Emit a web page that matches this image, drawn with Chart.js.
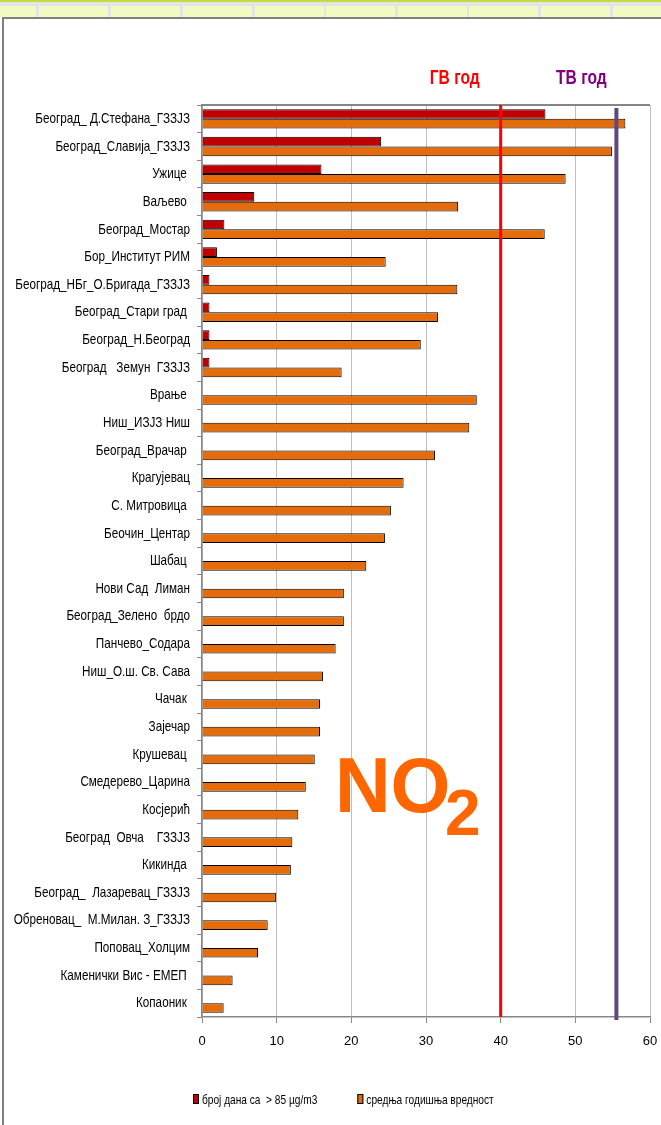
<!DOCTYPE html>
<html>
<head>
<meta charset="utf-8">
<script src="https://cdn.jsdelivr.net/npm/chart.js@4.4.1/dist/chart.umd.min.js"></script>
<style>
  html, body { margin: 0; padding: 0; background: #fff; overflow: hidden; }
  #wrap { position: relative; width: 661px; height: 1125px; overflow: hidden; }
  #sheet { position: absolute; left: 0; top: 0; width: 661px; height: 17px; background: #e4e4e4; border-top: 2px solid #c2dc3c; box-sizing: border-box; }
  #sheet div { position: absolute; top: 4px; height: 11px; background: #f2f9c2; }
  #frame { position: absolute; left: 2px; top: 17px; width: 700px; height: 1106px; border-left: 2px solid #808080; border-top: 2px solid #808080; border-bottom: 2px solid #808080; background: #fff; }
  #c { position: absolute; left: 0; top: 0; width: 661px; height: 1125px; }
</style>
</head>
<body>
<div id="wrap">
  <div id="sheet"></div>
  <div id="frame"></div>
  <canvas id="c" width="661" height="1125"></canvas>
</div>
<script>
const stations = [
  'Београд_ Д.Стефана_ГЗЗЈЗ', 'Београд_Славија_ГЗЗЈЗ', 'Ужице ', 'Ваљево ', 'Београд_Мостар',
  'Бор_Институт РИМ', 'Београд_НБг_О.Бригада_ГЗЗЈЗ', 'Београд_Стари град ', 'Београд_Н.Београд',
  'Београд   Земун  ГЗЗЈЗ', 'Врање ', 'Ниш_ИЗЈЗ Ниш', 'Београд_Врачар ', 'Крагујевац',
  'С. Митровица ', 'Беочин_Центар', 'Шабац ', 'Нови Сад  Лиман', 'Београд_Зелено  брдо',
  'Панчево_Содара', 'Ниш_О.ш. Св. Сава', 'Чачак ', 'Зајечар', 'Крушевац ', 'Смедерево_Царина',
  'Косјерић', 'Београд  Овча    ГЗЗЈЗ', 'Кикинда ', 'Београд_  Лазаревац_ГЗЗЈЗ',
  'Обреновац_  М.Милан. З_ГЗЗЈЗ', 'Поповац_Холцим', 'Каменички Вис - ЕМЕП ', 'Копаоник '
];
const daysOver85 = [46, 24, 16, 7, 3, 2, 1, 1, 1, 1,
  null, null, null, null, null, null, null, null, null, null, null,
  null, null, null, null, null, null, null, null, null, null, null, null];
const annualMean = [56.7, 54.9, 48.7, 34.3, 45.9, 24.6, 34.2, 31.6, 29.3, 18.7,
  36.8, 35.8, 31.2, 27.0, 25.3, 24.5, 22.0, 19.0, 19.0, 17.9, 16.2,
  15.8, 15.8, 15.1, 13.9, 12.9, 12.1, 11.9, 9.9, 8.8, 7.5, 4.1, 2.9];
const seriesNames = ['број дана са  > 85 µg/m3', 'средња годишња вредност'];
const xTicks = [0, 10, 20, 30, 40, 50, 60];
const limitGV = 40;
const limitTV = 55.5;

// spreadsheet strip at the top
const sheet = document.getElementById('sheet');
[-35, 37, 109, 181, 253, 324, 396, 467, 539, 611].forEach(x => {
  const d = document.createElement('div');
  d.style.left = (x + 2) + 'px';
  d.style.width = '69px';
  sheet.appendChild(d);
});

const sans = '"Liberation Sans", Arial, sans-serif';
const squeeze = 0.78; // imitates Arial Narrow

function narrowText(ctx, text, x, y, font, align) {
  ctx.save();
  ctx.translate(x, y);
  ctx.scale(squeeze, 1);
  ctx.font = font;
  ctx.textAlign = align;
  ctx.fillText(text, 0, 0);
  const w = ctx.measureText(text).width * squeeze;
  ctx.restore();
  return w;
}

const extras = {
  id: 'extras',
  afterDatasetsDraw(chart) {
    const { ctx, chartArea: a, scales: { x, y } } = chart;
    ctx.save();
    // plot top border
    ctx.strokeStyle = '#868686';
    ctx.lineWidth = 2;
    ctx.beginPath();
    ctx.moveTo(a.left, a.top);
    ctx.lineTo(a.right, a.top);
    ctx.stroke();
    // limit lines
    const gx = x.getPixelForValue(limitGV);
    ctx.strokeStyle = '#ff0000';
    ctx.lineWidth = 3;
    ctx.beginPath();
    ctx.moveTo(gx, a.top);
    ctx.lineTo(gx, a.bottom);
    ctx.stroke();
    const tx = x.getPixelForValue(limitTV);
    ctx.strokeStyle = '#604a7b';
    ctx.lineWidth = 4;
    ctx.beginPath();
    ctx.moveTo(tx, a.top + 3);
    ctx.lineTo(tx, a.bottom + 3);
    ctx.stroke();

    // category labels (narrow)
    ctx.fillStyle = '#000';
    ctx.textBaseline = 'middle';
    chart.data.labels.forEach((lab, i) => {
      narrowText(ctx, lab, y.right - 12, y.getPixelForTick(i), '15px ' + sans, 'right');
    });

    // limit captions
    ctx.textBaseline = 'alphabetic';
    ctx.fillStyle = '#ff0000';
    narrowText(ctx, 'ГВ год', gx - 46, 84, 'bold 20px ' + sans, 'center');
    ctx.fillStyle = '#800080';
    narrowText(ctx, 'ТВ год', tx - 35, 84, 'bold 20px ' + sans, 'center');

    // NO2
    ctx.textAlign = 'left';
    ctx.fillStyle = '#ff6600';
    ctx.font = 'bold 77px ' + sans;
    ctx.fillText('NO', 335, 812);
    ctx.font = 'bold 64px ' + sans;
    ctx.fillText('2', 445, 835);

    // legend
    let lx = 193;
    const ly = 1104;
    chart.data.datasets.forEach((ds) => {
      ctx.fillStyle = ds.backgroundColor;
      ctx.fillRect(lx, ly - 10, 6, 10);
      ctx.strokeStyle = '#000';
      ctx.lineWidth = 1;
      ctx.strokeRect(lx + 0.5, ly - 9.5, 5, 9);
      ctx.fillStyle = '#000';
      const w = narrowText(ctx, ds.label, lx + 9, ly, '13px ' + sans, 'left');
      lx += 9 + w + 40;
    });
    ctx.restore();
  }
};

new Chart(document.getElementById('c'), {
  type: 'bar',
  data: {
    labels: stations,
    datasets: [
      {
        label: seriesNames[0],
        data: daysOver85,
        backgroundColor: '#c00000',
        borderColor: '#000',
        borderWidth: 1,
        categoryPercentage: 0.7,
        barPercentage: 1.0,
      },
      {
        label: seriesNames[1],
        data: annualMean,
        backgroundColor: '#e46c0a',
        borderColor: '#000',
        borderWidth: 1,
        categoryPercentage: 0.7,
        barPercentage: 1.0,
      },
    ],
  },
  options: {
    indexAxis: 'y',
    responsive: false,
    animation: false,
    devicePixelRatio: 1,
    layout: { padding: { top: 105, left: 5, right: 11, bottom: 40 } },
    scales: {
      x: {
        min: 0,
        max: 60,
        afterBuildTicks: (s) => { s.ticks = xTicks.map(v => ({ value: v })); },
        afterFit: (s) => { s.height = 68; s.paddingLeft = 0; s.paddingRight = 0; },
        grid: { color: '#c0c0c0', lineWidth: 1, tickColor: '#888', tickLength: 6 },
        border: { color: '#888', width: 1.5 },
        ticks: { color: '#000', padding: 11, font: { family: sans, size: 13 } },
      },
      y: {
        afterFit: (s) => { s.width = 197; s.paddingTop = 0; s.paddingBottom = 0; },
        grid: { drawOnChartArea: false, tickColor: '#888', tickLength: 5 },
        border: { color: '#888', width: 1.5 },
        ticks: { display: false, autoSkip: false },
      },
    },
    plugins: {
      legend: { display: false },
      tooltip: { enabled: false },
    },
  },
  plugins: [extras],
});
</script>
</body>
</html>
